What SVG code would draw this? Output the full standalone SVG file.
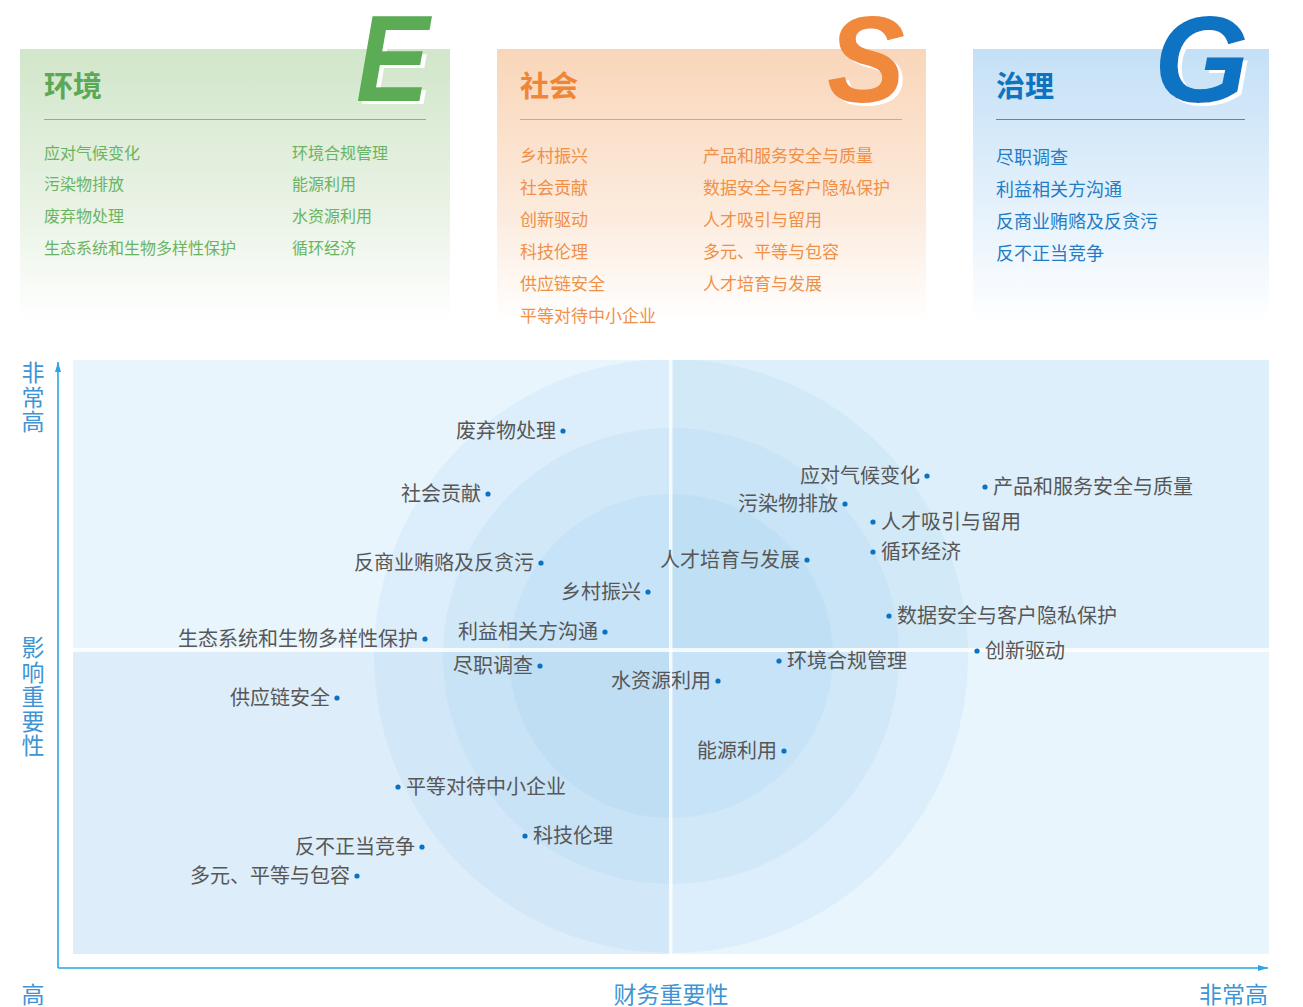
<svg xmlns="http://www.w3.org/2000/svg" width="1303" height="1007" viewBox="0 0 1303 1007">
<defs>
<linearGradient id="gE" x1="0" y1="0" x2="0" y2="1"><stop offset="0" stop-color="#d1e6ca"/><stop offset="0.6" stop-color="#eaf3e6"/><stop offset="1" stop-color="#ffffff"/></linearGradient>
<linearGradient id="gS" x1="0" y1="0" x2="0" y2="1"><stop offset="0" stop-color="#f9d6b9"/><stop offset="0.6" stop-color="#fcebdd"/><stop offset="1" stop-color="#ffffff"/></linearGradient>
<linearGradient id="gG" x1="0" y1="0" x2="0" y2="1"><stop offset="0" stop-color="#c4e0f6"/><stop offset="0.6" stop-color="#e6f2fc"/><stop offset="1" stop-color="#ffffff"/></linearGradient>
<clipPath id="chartClip"><rect x="73" y="360" width="1196" height="594"/></clipPath>
<filter id="wsh" x="-20%" y="-20%" width="150%" height="150%">
<feOffset in="SourceAlpha" dx="4" dy="3" result="o"/>
<feFlood flood-color="#ffffff"/>
<feComposite in2="o" operator="in" result="s"/>
<feMerge><feMergeNode in="s"/><feMergeNode in="SourceGraphic"/></feMerge>
</filter>
<marker id="arrow" viewBox="0 0 10 6" refX="10" refY="3" markerWidth="10" markerHeight="6" markerUnits="userSpaceOnUse" orient="auto"><path d="M0,0 L10,3 L0,6 Z" fill="#29a6e6"/></marker>
<style>
.cjk{font-family:"Noto Sans CJK SC","Noto Sans",sans-serif;}
.big{font-family:"Liberation Sans",Arial,sans-serif;font-weight:bold;font-style:italic;font-size:122px;filter:url(#wsh);}
.title{font-size:29px;font-weight:bold;}
.itE{font-size:16px;fill:#69b462;}
.itS{font-size:17px;fill:#f09048;}
.itG{font-size:18px;fill:#237dc5;}
.lbl{font-size:20px;fill:#575757;}
.ax{font-size:23px;fill:#3f95d4;}
.vert{writing-mode:vertical-rl;letter-spacing:1.5px;}
.dot{fill:#0a72c4;}
</style>
</defs>
<rect width="1303" height="1007" fill="#ffffff"/>

<g id="panel-E">
<rect x="20" y="49" width="430" height="273" fill="url(#gE)"/>
<text class="big" transform="translate(356,101) scale(0.9,1)" x="0" y="0" fill="#5bab55">E</text>
<text class="cjk title" x="44" y="97" fill="#5aa956">环境</text>
<line x1="44" y1="119.5" x2="426" y2="119.5" stroke="#7dbd72" stroke-width="1.2"/>
<g class="cjk itE">
<text x="44" y="159">应对气候变化</text>
<text x="44" y="190">污染物排放</text>
<text x="44" y="222">废弃物处理</text>
<text x="44" y="254">生态系统和生物多样性保护</text>
<text x="292" y="159">环境合规管理</text>
<text x="292" y="190">能源利用</text>
<text x="292" y="222">水资源利用</text>
<text x="292" y="254">循环经济</text>
</g>
</g>

<g id="panel-S">
<rect x="497" y="49" width="429" height="273" fill="url(#gS)"/>
<text class="big" transform="translate(827,102) scale(0.96,1)" x="0" y="0" fill="#f0893a">S</text>
<text class="cjk title" x="520" y="97" fill="#ef8535">社会</text>
<line x1="520" y1="119.5" x2="902" y2="119.5" stroke="#f0a066" stroke-width="1.2"/>
<g class="cjk itS">
<text x="520" y="162">乡村振兴</text>
<text x="520" y="194">社会贡献</text>
<text x="520" y="226">创新驱动</text>
<text x="520" y="258">科技伦理</text>
<text x="520" y="290">供应链安全</text>
<text x="520" y="322">平等对待中小企业</text>
<text x="703" y="162">产品和服务安全与质量</text>
<text x="703" y="194">数据安全与客户隐私保护</text>
<text x="703" y="226">人才吸引与留用</text>
<text x="703" y="258">多元、平等与包容</text>
<text x="703" y="290">人才培育与发展</text>
</g>
</g>

<g id="panel-G">
<rect x="973" y="49" width="296" height="273" fill="url(#gG)"/>
<text class="big" x="1154" y="102" fill="#0b73c2">G</text>
<text class="cjk title" x="996" y="97" fill="#0e74bf">治理</text>
<line x1="996" y1="119.5" x2="1245" y2="119.5" stroke="#3c8fd0" stroke-width="1.2"/>
<g class="cjk itG">
<text x="996" y="164">尽职调查</text>
<text x="996" y="196">利益相关方沟通</text>
<text x="996" y="228">反商业贿赂及反贪污</text>
<text x="996" y="260">反不正当竞争</text>
</g>
</g>

<g id="chart-background">
<rect x="73" y="360" width="597" height="290" fill="#e8f5fd"/>
<rect x="670" y="360" width="599" height="290" fill="#ddeffa"/>
<rect x="73" y="650" width="597" height="304" fill="#ddeefa"/>
<rect x="670" y="650" width="599" height="304" fill="#e8f5fd"/>
<g clip-path="url(#chartClip)" fill="#5fb2ea" fill-opacity="0.09">
<circle cx="671" cy="656" r="297"/>
<circle cx="671" cy="656" r="228"/>
<circle cx="671" cy="656" r="162"/>
</g>
<rect x="73" y="648" width="1196" height="4" fill="#ffffff" fill-opacity="0.8"/>
<rect x="669" y="360" width="3.5" height="594" fill="#ffffff" fill-opacity="0.8"/>
</g>

<g id="connectors" stroke="#29a6e6" stroke-width="1.6" fill="none">
<line x1="58" y1="968" x2="58" y2="362" marker-end="url(#arrow)"/>
<line x1="58" y1="968" x2="1268" y2="968" marker-end="url(#arrow)"/>
</g>

<g id="axis-labels" class="cjk ax">
<text class="vert" x="33" y="361">非常高</text>
<text class="vert" x="33" y="636">影响重要性</text>
<text x="33" y="1003" text-anchor="middle">高</text>
<text x="671" y="1003" text-anchor="middle">财务重要性</text>
<text x="1268" y="1003" text-anchor="end">非常高</text>
</g>

<g id="points" class="cjk lbl">
<g id="p-feiqiwu"><circle class="dot" cx="563" cy="431" r="2.6"/><text x="556" y="438" text-anchor="end">废弃物处理</text></g>
<g id="p-shehuigongxian"><circle class="dot" cx="488" cy="494" r="2.6"/><text x="481" y="501" text-anchor="end">社会贡献</text></g>
<g id="p-fanshangye"><circle class="dot" cx="541" cy="563" r="2.6"/><text x="534" y="570" text-anchor="end">反商业贿赂及反贪污</text></g>
<g id="p-xiangcun"><circle class="dot" cx="648" cy="592" r="2.6"/><text x="641" y="599" text-anchor="end">乡村振兴</text></g>
<g id="p-liyi"><circle class="dot" cx="605" cy="632" r="2.6"/><text x="598" y="639" text-anchor="end">利益相关方沟通</text></g>
<g id="p-jinzhi"><circle class="dot" cx="540" cy="666" r="2.6"/><text x="533" y="673" text-anchor="end">尽职调查</text></g>
<g id="p-shuiziyuan"><circle class="dot" cx="718" cy="681" r="2.6"/><text x="711" y="688" text-anchor="end">水资源利用</text></g>
<g id="p-rencaipeiyu"><circle class="dot" cx="807" cy="560" r="2.6"/><text x="800" y="567" text-anchor="end">人才培育与发展</text></g>
<g id="p-wuran"><circle class="dot" cx="845" cy="504" r="2.6"/><text x="838" y="511" text-anchor="end">污染物排放</text></g>
<g id="p-qihou"><circle class="dot" cx="927" cy="476" r="2.6"/><text x="920" y="483" text-anchor="end">应对气候变化</text></g>
<g id="p-shengtai"><circle class="dot" cx="425" cy="639" r="2.6"/><text x="418" y="646" text-anchor="end">生态系统和生物多样性保护</text></g>
<g id="p-gongyinglian"><circle class="dot" cx="337" cy="698" r="2.6"/><text x="330" y="705" text-anchor="end">供应链安全</text></g>
<g id="p-fanbuzheng"><circle class="dot" cx="422" cy="847" r="2.6"/><text x="415" y="854" text-anchor="end">反不正当竞争</text></g>
<g id="p-duoyuan"><circle class="dot" cx="357" cy="876" r="2.6"/><text x="350" y="883" text-anchor="end">多元、平等与包容</text></g>
<g id="p-nengyuan"><circle class="dot" cx="784" cy="751" r="2.6"/><text x="777" y="758" text-anchor="end">能源利用</text></g>
<g id="p-chanpin"><circle class="dot" cx="985" cy="487" r="2.6"/><text x="993" y="494">产品和服务安全与质量</text></g>
<g id="p-rencaixiyin"><circle class="dot" cx="873" cy="522" r="2.6"/><text x="881" y="529">人才吸引与留用</text></g>
<g id="p-xunhuan"><circle class="dot" cx="873" cy="552" r="2.6"/><text x="881" y="559">循环经济</text></g>
<g id="p-shuju"><circle class="dot" cx="889" cy="616" r="2.6"/><text x="897" y="623">数据安全与客户隐私保护</text></g>
<g id="p-chuangxin"><circle class="dot" cx="977" cy="651" r="2.6"/><text x="985" y="658">创新驱动</text></g>
<g id="p-huanjinghegui"><circle class="dot" cx="779" cy="661" r="2.6"/><text x="787" y="668">环境合规管理</text></g>
<g id="p-pingdeng"><circle class="dot" cx="398" cy="787" r="2.6"/><text x="406" y="794">平等对待中小企业</text></g>
<g id="p-keji"><circle class="dot" cx="525" cy="836" r="2.6"/><text x="533" y="843">科技伦理</text></g>
</g>
</svg>
